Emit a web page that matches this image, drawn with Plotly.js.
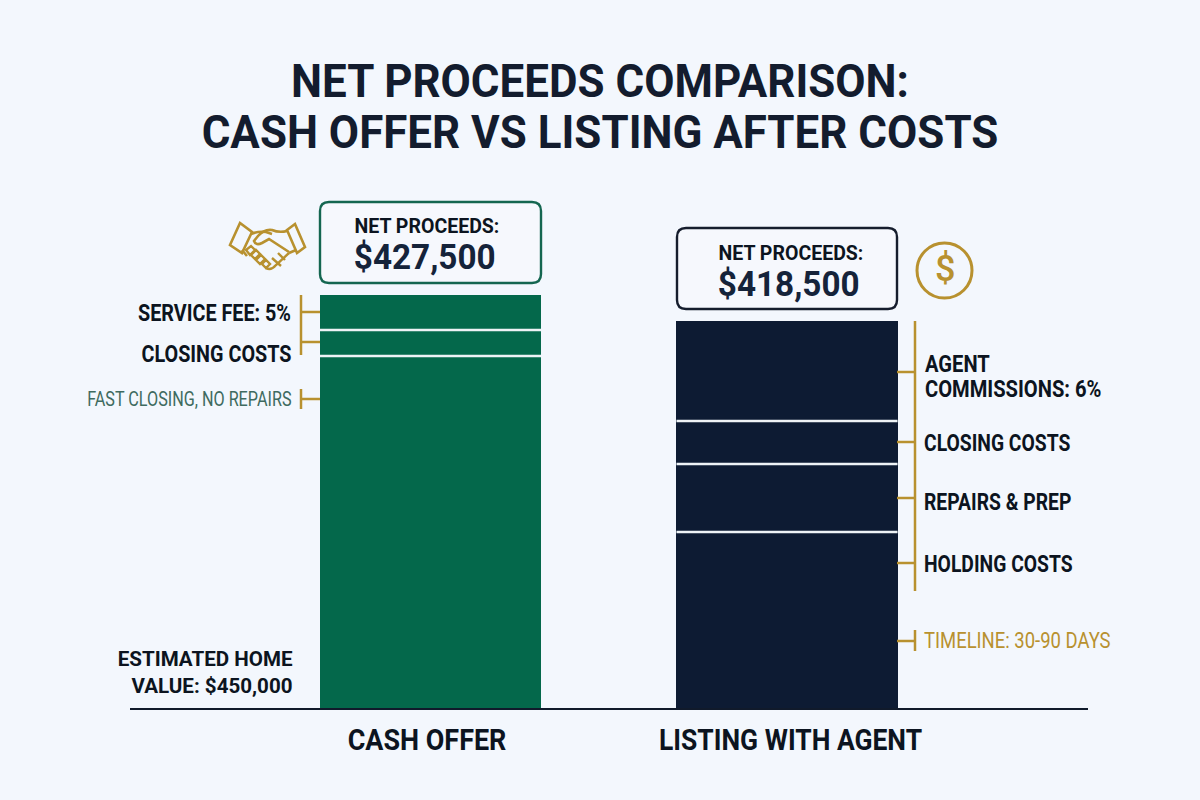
<!DOCTYPE html>
<html><head><meta charset="utf-8">
<script src="https://cdn.plot.ly/plotly-3.0.1.min.js"></script>
<style>html,body{margin:0;padding:0;background:#f3f7fd}</style></head>
<body><div id="chart" style="width:1200px;height:800px"></div>
<script>
// Data: segment heights as drawn in the picture (bars are not to a common dollar scale)
const categories = ["CASH OFFER", "LISTING WITH AGENT"];
const baseSegment = [352, 176];
const secondSegment = [26, 68];
const thirdSegment = [35, 43];
const fourthSegment = [0, 100];
const barColors = ["#04684b", "#0d1b33"];
const netLabels = ["$427,500", "$418,500"];
const cashLabels = ["SERVICE FEE: 5%", "CLOSING COSTS", "FAST CLOSING, NO REPAIRS"];
const listingLabels = ["AGENT", "COMMISSIONS: 6%", "CLOSING COSTS", "REPAIRS & PREP", "HOLDING COSTS", "TIMELINE: 30-90 DAYS"];

const GOLD = "#b8912f", INK = "#0c1420", FONT = "Roboto", PLOT_H = 708, L = 130, W = 958;
const px = x => (x - L) / W, py = y => (PLOT_H - y) / PLOT_H;
const xd = x => (x - 430.5) / 356.5;   // pixel to category-axis unit
const path = (d) => d.replace(/(-?[\d.]+),(-?[\d.]+)/g, (m, a, b) => px(+a).toFixed(5) + "," + py(+b).toFixed(5));
const line = (x0, y0, x1, y1, color, width) => ({type:"line", xref:"paper", yref:"paper", x0:px(x0), y0:py(y0), x1:px(x1), y1:py(y1), line:{color, width}});
const stroke = (d, color, width) => ({type:"path", xref:"paper", yref:"paper", path:path(d), line:{color, width}, fillcolor:"rgba(0,0,0,0)"});
const box = (x0, y0, x1, y1, r, color) => ({type:"path", xref:"paper", yref:"paper", layer:"above", line:{color, width:2.4}, fillcolor:"#f6f8fd",
  path:path(`M${x0+r},${y0} L${x1-r},${y0} Q${x1},${y0} ${x1},${y0+r} L${x1},${y1-r} Q${x1},${y1} ${x1-r},${y1} L${x0+r},${y1} Q${x0},${y1} ${x0},${y1-r} L${x0},${y0+r} Q${x0},${y0} ${x0+r},${y0} Z`)});
const annoScale = [];
const note = (text, x, y, anchor, size, color, scale, weight) => { annoScale.push(scale);
  return {text, x:px(x), y:py(y), xref:"paper", yref:"paper", xanchor:anchor, yanchor:"middle", showarrow:false, align:anchor, font:{family:FONT, size, color, weight:weight||700}}; };

const segs = [baseSegment, secondSegment, thirdSegment, fourthSegment];
const traces = segs.map(s => ({type:"bar", x:categories, y:s, width:0.62, marker:{color:barColors, line:{width:0}}, hoverinfo:"skip", showlegend:false}));

// separators follow the stacked values
const seps = [];
categories.forEach((c, i) => { let sum = 0;
  segs.forEach((s, k) => { sum += s[i];
    if (k < segs.length - 1 && segs[k + 1][i] > 0) seps.push({type:"line", xref:"x", yref:"y", x0:i - 0.31, x1:i + 0.31, y0:sum, y1:sum, line:{color:"#eef3f6", width:2.5}, layer:"above"});
  });
});

const shapes = [...seps,
  line(301,295,301,355,GOLD,2.5), line(301,312,320,312,GOLD,2.5), line(301,342,320,342,GOLD,2.5),
  line(301,389,301,409,GOLD,2.5), line(301,399,320,399,GOLD,2.5),
  line(915,321,915,591,GOLD,2.5), line(897,372,915,372,GOLD,2.5), line(897,442,915,442,GOLD,2.5), line(897,498,915,498,GOLD,2.5), line(897,563,915,563,GOLD,2.5),
  line(915,630,915,651,GOLD,2.5), line(897,641,915,641,GOLD,2.5),
  box(320,202,541,283,9,"#146650"), box(677,228,897,309,9,"#151d2d"),
  {type:"circle", xref:"paper", yref:"paper", x0:px(917), x1:px(972), y0:py(298), y1:py(243), line:{color:GOLD, width:3}},
  stroke("M230,245 L240,223 L252,232 L242,253 Z", GOLD, 2.6),
  stroke("M287,230 L295,224 L305,247 L297,253 Z", GOLD, 2.6),
  stroke("M251,234 Q258,231 266,232 L272,234", GOLD, 2.6),
  stroke("M287,231 Q279,233 272,230 Q264,229 258,236 L254,241 Q256,246 262,243 L269,239 L289,252", GOLD, 2.6),
  stroke("M242,250 L247,256 M296,250 L289,253", GOLD, 2.6),
  stroke("M246,250 L251,246 L255,250 L250,255 Z M251,255 L256,250 L260,254 L255,259 Z M256,260 L261,255 L265,259 L260,264 Z M262,264 L266,260 L270,264 L266,268 Z", GOLD, 2.4),
  stroke("M266,268 Q271,271 276,265 L289,253 M272,258 L281,266 M278,253 L285,260", GOLD, 2.4)
];

const annotations = [
  note("NET PROCEEDS:", 427, 226, "center", 21, INK, 0.93), note(netLabels[0], 424.5, 257, "center", 36, "#15233a", 0.925),
  note("NET PROCEEDS:", 790.5, 253, "center", 21, INK, 0.93), note(netLabels[1], 788, 284, "center", 36, "#15233a", 0.925),
  note(cashLabels[0], 293, 313, "right", 23, INK, 0.86), note(cashLabels[1], 293, 354, "right", 23, INK, 0.86),
  note(cashLabels[2], 294, 399, "right", 20, "#3f6b60", 0.81, 400),
  note("ESTIMATED HOME<br>VALUE: $450,000", 295, 672, "right", 21, INK, 0.98),
  note(listingLabels[0], 923, 364, "left", 23, INK, 0.875), note(listingLabels[1], 923, 389, "left", 23, INK, 0.875),
  note(listingLabels[2], 922, 443, "left", 23, INK, 0.84),
  note(listingLabels[3], 922, 502, "left", 23, INK, 0.84), note(listingLabels[4], 922, 564, "left", 23, INK, 0.84),
  note(listingLabels[5], 922, 640, "left", 22, GOLD, 0.84, 400),
  note("$", 944.5, 269, "center", 36, GOLD, 1, 500)
];

const layout = {
  width:1200, height:800, margin:{l:L, r:1200 - L - W, t:0, b:800 - PLOT_H, pad:0},
  paper_bgcolor:"#f3f7fd", plot_bgcolor:"rgba(0,0,0,0)", barmode:"stack", bargap:0,
  title:{text:"NET PROCEEDS COMPARISON:<br>CASH OFFER VS LISTING AFTER COSTS", x:0.5, xanchor:"center", xref:"container", y:0.879, yanchor:"middle", yref:"container", font:{family:"Roboto", size:46, color:"#131c2e", weight:700}},
  xaxis:{type:"category", range:[xd(L), xd(L + W)], fixedrange:true, showline:true, linecolor:"#101a2b", linewidth:2, showgrid:false, zeroline:false, ticks:"outside", ticklen:5, tickcolor:"rgba(0,0,0,0)", tickfont:{family:"Roboto", size:29, color:INK, weight:700}},
  yaxis:{range:[0, PLOT_H], visible:false, fixedrange:true},
  shapes, annotations
};

// Horizontal condensing of the rendered text, since no condensed face is installed
function squeeze(el, s, anchor, dx) {
  const b = el.getBBox();
  const c = anchor === "right" ? b.x + b.width : anchor === "left" ? b.x : b.x + b.width / 2;
  const t = el.getAttribute("transform") || "";
  el.setAttribute("transform", `${t} translate(${dx || 0},0) translate(${c},0) scale(${s},1) translate(${-c},0)`);
}
Plotly.newPlot("chart", traces, layout, {displayModeBar:false, staticPlot:true}).then(gd => {
  gd.querySelectorAll(".annotation").forEach(a => {
    const i = +a.getAttribute("data-index");
    squeeze(a.querySelector("text"), annoScale[i], annotations[i].xanchor);
  });
  const ticks = gd.querySelectorAll(".xtick text");
  if (ticks[0]) squeeze(ticks[0], 0.93, "center", -3.5);
  if (ticks[1]) squeeze(ticks[1], 0.913, "center", 3.5);
  const title = gd.querySelector(".gtitle");
  if (title) {
    const lines = title.querySelectorAll("tspan.line");
    if (lines.length === 2) lines[1].setAttribute("dy", "51.5");
    squeeze(title, 0.955, "center", 0);
  }
});
</script></body></html>
